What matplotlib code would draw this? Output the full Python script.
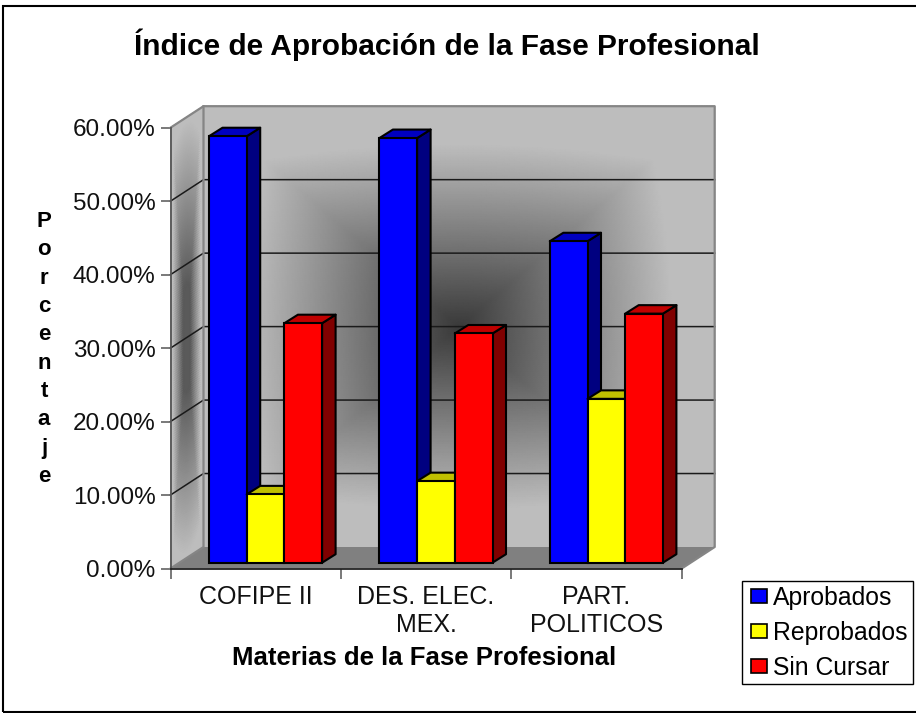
import numpy as np
import matplotlib
matplotlib.use('Agg')
import matplotlib.pyplot as plt
from matplotlib.patches import Patch, Rectangle

plt.rcParams['font.family'] = ['Liberation Sans', 'DejaVu Sans']

# ── Data ──────────────────────────────────────────────
CATEGORIES = ['COFIPE II', 'DES. ELEC.\nMEX.', 'PART.\nPOLITICOS']
SERIES = ['Aprobados', 'Reprobados', 'Sin Cursar']
APROBADOS = [58.05, 57.8, 43.75]
REPROBADOS = [9.3, 11.1, 22.3]
SIN_CURSAR = [32.6, 31.2, 33.9]
Y_TICKS = [0, 10, 20, 30, 40, 50, 60]

W, H = 916, 713
FRONT = ['#0000ff', '#ffff00', '#ff0000']
TOP = ['#0000c0', '#c0c000', '#c00000']
SIDE = ['#000080', '#808000', '#800000']

# fake 3D offsets, in data units
PX_X = 511.2 / 3
PX_Y = 440.8 / 60
WALL_DX, WALL_DY = 33 / PX_X, 21.5 / PX_Y
BAR_DX, BAR_DY = 13.5 / PX_X, 8.5 / PX_Y
BASE_DX, BASE_DY = 10 / PX_X, 5.8 / PX_Y
BAR_W = 37.7 / PX_X
GAP = 28.5 / PX_X


def shade(u, v):
    """Grey level of the 'from centre' wall gradient, u and v in -1..1."""
    t = 0.75 * np.maximum(np.abs(u), np.abs(v)) + 0.25 * np.hypot(u, v) / 1.2
    return np.minimum(58 + 165 * t, 189)


fig = plt.figure(figsize=(W / 100, H / 100), dpi=100, facecolor='white')
ax = fig.add_axes([170.5 / W, (H - 568.5) / H, 511.2 / W, 440.8 / H])
ax.set_xlim(0, 3)
ax.set_ylim(0, 60)
ax.patch.set_visible(False)

# back wall and side wall
u, v = np.meshgrid(np.linspace(-1, 1, 201), np.linspace(-1, 1, 201))
back_x = WALL_DX + (u + 1) * 1.5
back_y = WALL_DY + (v + 1) * 30
ax.pcolormesh(back_x, back_y, shade(u, v), cmap='gray', vmin=0, vmax=255,
              shading='gouraud', clip_on=False, zorder=0)
side_x = (u + 1) / 2 * WALL_DX
side_y = (v + 1) * 30 + side_x / WALL_DX * WALL_DY
ax.pcolormesh(side_x, side_y, np.maximum(shade(u, v * 0.85), 90), cmap='gray', vmin=0, vmax=255,
              shading='gouraud', clip_on=False, zorder=0)

# floor
ax.fill([0, 3, 3 + WALL_DX, WALL_DX], [0, 0, WALL_DY, WALL_DY],
        color='#808080', lw=0, clip_on=False, zorder=1)

# gridlines
for t in Y_TICKS[1:-1]:
    ax.plot([0, WALL_DX, 3 + WALL_DX], [t, t + WALL_DY, t + WALL_DY],
            color='#1a1a1a', lw=1.1, clip_on=False, zorder=1)

# wall borders
ax.plot([0, WALL_DX, 3 + WALL_DX, 3 + WALL_DX, 3],
        [60, 60 + WALL_DY, 60 + WALL_DY, WALL_DY, 0],
        color='#858585', lw=1.6, clip_on=False, zorder=2)
ax.plot([WALL_DX, WALL_DX, 0], [60 + WALL_DY, WALL_DY, 0],
        color='#858585', lw=1.6, clip_on=False, zorder=2)

# bars, left to right so the nearer faces land on top
x0 = np.arange(3) + GAP + BASE_DX
for i, values in enumerate([APROBADOS, REPROBADOS, SIN_CURSAR]):
    z = 3 + i * 2
    x = x0 + i * BAR_W
    for xi, val in zip(x, values):
        top = BASE_DY + val
        right = xi + BAR_W
        ax.fill([right, right + BAR_DX, right + BAR_DX, right],
                [BASE_DY, BASE_DY + BAR_DY, top + BAR_DY, top],
                facecolor=SIDE[i], edgecolor='black', lw=1.5, clip_on=False,
                joinstyle='round', zorder=z)
        ax.fill([xi, xi + BAR_DX, right + BAR_DX, right],
                [top, top + BAR_DY, top + BAR_DY, top],
                facecolor=TOP[i], edgecolor='black', lw=1.5, clip_on=False,
                joinstyle='round', zorder=z)
    ax.bar(x, values, BAR_W, bottom=BASE_DY, align='edge', color=FRONT[i],
           edgecolor='black', lw=1.5, clip_on=False, zorder=z + 1)

# axes
for name in ['top', 'right']:
    ax.spines[name].set_visible(False)
ax.spines['left'].set_color('#555555')
ax.spines['left'].set_linewidth(1.3)
ax.spines['bottom'].set_color('#222222')
ax.spines['bottom'].set_linewidth(1.3)
ax.spines['bottom'].set_zorder(2.5)

ax.set_yticks(Y_TICKS)
ax.set_yticklabels([f'{t:.2f}%' for t in Y_TICKS], fontsize=17.5, color='#111111')
ax.tick_params(axis='y', length=7.2, width=1.1, color='#555555', pad=3.5)
ax.set_xticks([0, 1, 2, 3])
ax.set_xticklabels([])
ax.tick_params(axis='x', length=7, width=1.1, color='#555555')
ax.set_xticks([0.5, 1.5, 2.5], minor=True)
ax.set_xticklabels(CATEGORIES, minor=True, fontsize=18, color='#111111', linespacing=1.2)
ax.tick_params(axis='x', which='minor', length=0, pad=12)

# texts
fig.text(447 / W, 1 - 45 / H, 'Índice de Aprobación de la Fase Profesional',
         fontsize=21.5, fontweight='bold', ha='center', va='center')
fig.text(424.5 / W, 1 - 658 / H, 'Materias de la Fase Profesional',
         fontsize=18.5, fontweight='bold', ha='center', va='center')
fig.text(44 / W, 1 - 349 / H, '\n'.join('Porcentaje'), fontsize=16, fontweight='bold',
         ha='center', va='center', linespacing=1.46)

# legend, frame drawn apart to fit the box of the original
fig.add_artist(Rectangle((742 / W, 1 - 684 / H), 171 / W, 103 / H, transform=fig.transFigure,
                         facecolor='white', edgecolor='black', lw=1.0))
handles = [Patch(facecolor=FRONT[i], edgecolor='black', lw=1.2, label=SERIES[i]) for i in range(3)]
fig.legend(handles=handles, loc='upper left',
           bbox_to_anchor=(751 / W, 1 - 586 / H), bbox_transform=fig.transFigure,
           fontsize=17.8, frameon=False, borderaxespad=0, borderpad=0, labelspacing=0.44,
           handlelength=0.65, handleheight=0.5, handletextpad=0.25)

# outer frame of the chart
fig.add_artist(Rectangle((3 / W, 1 - 711.5 / H), 940 / W, 705.5 / H, transform=fig.transFigure,
                         fill=False, edgecolor='black', lw=1.5))

fig.savefig('out.png', dpi=100)
